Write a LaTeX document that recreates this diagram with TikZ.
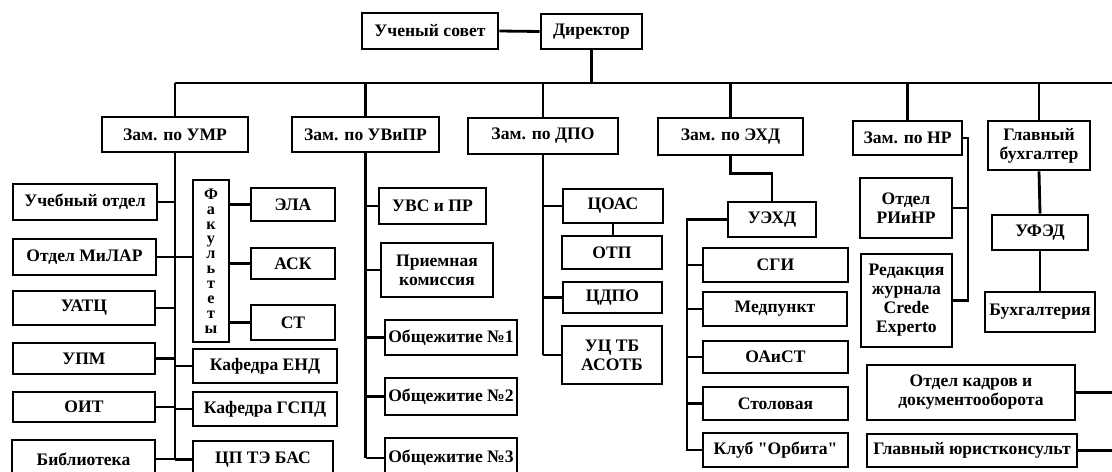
\documentclass[tikz,border=0pt]{standalone}
\usepackage{fontspec}
\setmainfont{Liberation Serif}[Ligatures=TeXOff]
\usetikzlibrary{positioning,calc}
% box from its corners (x1,y1) to (x2,y2), in pixels of the scheme
\newcommand{\orgbox}[6]{\node[box,minimum width={(#4-#2)*0.025cm},minimum height={(#5-#3)*0.025cm}] (#1) at ({(#2+#4)/2},{(#3+#5)/2}) {#6};}

\begin{document}
\begin{tikzpicture}[x=0.025cm,y=-0.025cm,line width=2pt,
  box/.style={draw,fill=white,inner sep=1pt,align=center,font=\bfseries\fontsize{12.5}{13.5}\selectfont}]
			\useasboundingbox (0,0) rectangle (1112,472);
			\clip (0,0) rectangle (1112,472);
			\coordinate (bus) at (0,83);
			\coordinate (edge) at (1112,0);
			\coordinate (rail) at (687,250);
			\coordinate (nrrail) at (968,140);

			\orgbox{sovet}{362}{13}{498}{49}{Ученый совет}
			\orgbox{dir}{541}{14}{642}{49}{Директор}
			\orgbox{umr}{102}{117}{248}{152}{Зам. по УМР}
			\orgbox{uvpr}{292}{117}{439}{152}{Зам. по УВиПР}
			\orgbox{dpo}{468}{118}{618}{154}{Зам. по ДПО}
			\orgbox{ehd}{658}{118}{803}{155}{Зам. по ЭХД}
			\orgbox{nr}{853}{121}{962}{155}{Зам. по НР}
			\orgbox{gb}{988}{121}{1090}{170}{Главный\\бухгалтер}

			\orgbox{uchotd}{13}{184}{157}{220}{Учебный отдел}
			\orgbox{milar}{13}{239}{156}{275}{Отдел МиЛАР}
			\orgbox{uatc}{13}{291}{155}{325}{УАТЦ}
			\orgbox{upm}{13}{343}{155}{374}{УПМ}
			\orgbox{oit}{13}{392}{155}{422}{ОИТ}
			\orgbox{bibl}{12}{440}{155}{478}{Библиотека}
			\node[box,minimum width=36*0.025cm,minimum height=162*0.025cm,
			  font=\bfseries\fontsize{11.5}{10.6}\selectfont] (fak) at (211,261)
			  {Ф\\а\\к\\у\\л\\ь\\т\\е\\т\\ы};
			\orgbox{ela}{251}{188}{335}{221}{ЭЛА}
			\orgbox{ask}{251}{248}{335}{279}{АСК}
			\orgbox{st}{251}{305}{335}{340}{СТ}
			\orgbox{kend}{193}{349}{337}{383}{Кафедра ЕНД}
			\orgbox{gspd}{193}{392}{337}{426}{Кафедра ГСПД}
			\orgbox{cptebas}{193}{441}{333}{478}{ЦП ТЭ БАС}

			\orgbox{uvs}{379}{188}{486}{224}{УВС и ПР}
			\orgbox{priem}{381}{243}{493}{297}{Приемная\\комиссия}
			\orgbox{ob1}{385}{320}{517}{355}{Общежитие №1}
			\orgbox{ob2}{385}{378}{517}{415}{Общежитие №2}
			\orgbox{ob3}{385}{438}{517}{478}{Общежитие №3}

			\orgbox{coas}{563}{189}{663}{223}{ЦОАС}
			\orgbox{otp}{562}{236}{662}{269}{ОТП}
			\orgbox{cdpo}{563}{282}{662}{313}{ЦДПО}
			\orgbox{uctb}{562}{326}{662}{384}{УЦ ТБ\\АСОТБ}

			\orgbox{uehd}{728}{202}{816}{237}{УЭХД}
			\orgbox{sgi}{703}{248}{848}{282}{СГИ}
			\orgbox{med}{703}{292}{847}{326}{Медпункт}
			\orgbox{oaist}{703}{341}{848}{373}{ОАиСТ}
			\orgbox{stol}{703}{387}{848}{420}{Столовая}
			\orgbox{klub}{703}{433}{848}{467}{Клуб "Орбита"}

			\orgbox{rinr}{860}{178}{952}{238}{Отдел\\РИиНР}
			\orgbox{red}{861}{254}{952}{347}{Редакция\\журнала\\Crede\\Experto}

			\orgbox{ufed}{992}{215}{1088}{250}{УФЭД}
			\orgbox{buh}{985}{292}{1095}{332}{Бухгалтерия}
			\orgbox{kadr}{867}{365}{1075}{420}{Отдел кадров и\\документооборота}
			\orgbox{jur}{867}{434}{1077}{467}{Главный юристконсульт}

			% top level
			\draw (sovet.east)--(dir.west);
			\draw (dir.south)--(dir.south |- bus);
			\draw (umr.north |- bus)--(edge |- bus);
			\foreach \z in {umr,uvpr,dpo,ehd,nr,gb}
			\draw (\z.north)--(\z.north |- bus);

			% УМР
			\draw (umr.south)--(umr.south |- bibl.east);
			\foreach \z in {uchotd,uatc,upm,oit,bibl}
			\draw (\z.east)--(\z.east -| umr.south);
			\draw (milar.east)--(milar.east -| fak.west);
			\foreach \z in {kend,gspd,cptebas}
			\draw (\z.west)--(\z.west -| umr.south);
			\foreach \z in {ela,ask,st}
			\draw (\z.west)--(\z.west -| fak.east);

			% УВиПР
			\draw (uvpr.south)--(uvpr.south |- ob3.west);
			\foreach \z in {uvs,priem,ob1,ob2,ob3}
			\draw (\z.west)--(\z.west -| uvpr.south);

			% ДПО
			\draw (dpo.south)--(dpo.south |- uctb.west);
			\foreach \z in {coas,cdpo,uctb}
			\draw (\z.west)--(\z.west -| dpo.south);
			\draw (coas.south)--(coas.south |- otp.north);

			% ЭХД
			\draw (ehd.south)--++(0,17) -| (uehd.north);
			\draw (uehd.west) -| (rail |- klub.west)--(klub.west);
			\foreach \z in {sgi,med,oaist,stol}
			\draw (\z.west)--(\z.west -| rail);

			% НР
			\draw (nr.east) -| (nrrail |- red.east)--(red.east);
			\draw (rinr.east)--(rinr.east -| nrrail);

			% главный бухгалтер
			\draw (gb.south)--(ufed.north);
			\draw (ufed.south)--(buh.north);
			\draw (kadr.east)--(kadr.east -| edge);
			\draw (jur.east)--(jur.east -| edge);
\end{tikzpicture}
\end{document}
